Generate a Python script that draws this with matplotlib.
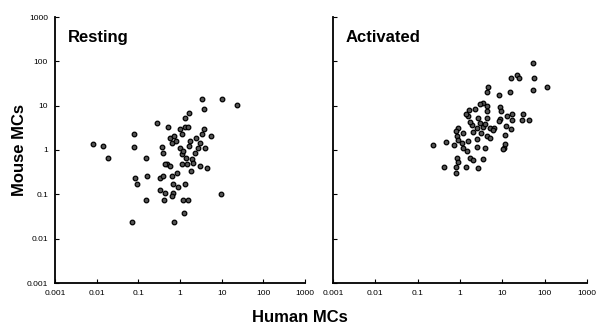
import matplotlib
matplotlib.use("Agg")
import matplotlib.pyplot as plt

plt.rcParams['font.family'] = ['Liberation Sans', 'DejaVu Sans']

# Resting: human MCs (x), mouse MCs (y)
rest_x = [0.0081, 0.014, 0.019, 0.078, 0.078, 0.15, 0.28, 0.51, 0.37, 0.39,
          0.57, 0.64, 0.71, 1.0, 1.11, 1.32, 1.62, 1.32, 1.55, 1.73,
          1.62, 3.35, 3.7, 3.7, 3.35, 3.0, 2.7, 2.3, 4.0, 5.5,
          10.0, 23.0, 1.0, 1.11, 1.38, 1.93, 1.11, 0.49, 0.57,
          0.083, 0.093, 0.16, 0.33, 0.39, 0.64, 0.84, 0.68, 0.89, 1.32,
          1.82, 0.33, 0.44, 0.68, 0.64, 0.15, 0.41, 1.18, 1.55, 1.24,
          0.071, 0.71, 9.5, 3.0, 4.4, 0.44, 1.45, 2.0, 0.8, 1.2, 2.4]
rest_y = [1.37, 1.23, 0.66, 2.3, 1.17, 0.66, 4.1, 3.3, 1.17, 0.86,
          1.87, 1.44, 2.1, 3.0, 2.3, 5.3, 6.9, 3.3, 3.3, 1.6,
          1.23, 13.8, 8.6, 3.0, 2.3, 1.44, 1.11, 0.85, 1.11, 2.1,
          13.8, 10.5, 1.11, 0.81, 0.66, 0.63, 0.48, 0.48, 0.43,
          0.23, 0.17, 0.26, 0.23, 0.26, 0.26, 0.30, 0.17, 0.15, 0.17,
          0.33, 0.123, 0.105, 0.105, 0.09, 0.073, 0.073, 0.073, 0.073, 0.037,
          0.024, 0.024, 0.1, 0.43, 0.39, 0.48, 0.48, 0.5, 1.6, 0.95, 1.9]

# Activated: human MCs (x), mouse MCs (y)
act_x = [54, 16, 22, 25, 56, 114, 54, 15, 4.6, 4.4,
         8.4, 3.5, 4.4, 3.0, 8.9, 9.4, 2.3, 1.64, 1.55, 4.4,
         4.4, 2.7, 8.9, 17, 31, 13, 17, 29.5, 43, 8.4,
         1.93, 2.5, 3.5, 5.1, 6.3, 12.3, 16, 0.9, 0.81, 0.85,
         0.9, 1.55, 2.5, 4.4, 5.1, 11.7, 0.23, 0.47, 0.72, 1.12,
         1.17, 1.48, 2.5, 3.9, 11, 3.5, 0.85, 0.9, 1.74, 2.0,
         0.42, 0.81, 1.39, 2.7, 0.81, 10.5, 11.7, 1.2, 2.0, 3.0,
         4.0, 1.7, 3.2, 6.0, 1.4]
act_y = [90, 43, 50, 43, 43, 27, 23, 20, 27, 20,
         17, 11.7, 10, 11, 9.5, 7.7, 8.5, 8.1, 5.9, 7.7,
         5.3, 5.3, 5.1, 6.6, 6.6, 5.9, 4.8, 4.8, 4.8, 4.5,
         3.7, 3.16, 3.3, 3.16, 3.16, 3.5, 3.0, 3.16, 2.7, 2.1,
         1.69, 1.6, 1.78, 2.1, 1.87, 2.2, 1.29, 1.5, 1.29, 1.44,
         1.11, 0.95, 1.17, 1.11, 1.11, 0.63, 0.66, 0.53, 0.66, 0.59,
         0.41, 0.41, 0.41, 0.39, 0.31, 1.05, 1.38, 2.4, 2.6, 4.0,
         3.8, 4.2, 2.4, 2.8, 6.5]

ticks = [0.001, 0.01, 0.1, 1, 10, 100, 1000]
tick_labels = ["0.001", "0.01", "0.1", "1", "10", "100", "1000"]

fig = plt.figure(figsize=(5.97, 3.30), dpi=100)
ax1 = fig.add_axes([55/597, 47/330, 250/597, 266/330])
ax2 = fig.add_axes([333/597, 47/330, 254/597, 266/330])

for ax, xs, ys, title, show_y in [(ax1, rest_x, rest_y, "Resting", True),
                                  (ax2, act_x, act_y, "Activated", False)]:
    ax.scatter(xs, ys, s=11, facecolor='#555555', edgecolor='black',
               linewidths=0.9, zorder=3)
    ax.set_xscale('log')
    ax.set_yscale('log')
    ax.set_xlim(0.001, 1000)
    ax.set_ylim(0.001, 1000)
    ax.set_xticks(ticks)
    ax.set_xticklabels(tick_labels)
    ax.set_yticks(ticks)
    if show_y:
        ax.set_yticklabels(tick_labels)
    else:
        ax.set_yticklabels([])
    ax.minorticks_off()
    ax.tick_params(direction='in', length=3, width=0.8, labelsize=6,
                   pad=5, colors='black')
    for s in ['top', 'right']:
        ax.spines[s].set_visible(False)
    for s in ['left', 'bottom']:
        ax.spines[s].set_linewidth(1.3)
        ax.spines[s].set_color('black')
    ax.text(0.05, 0.95, title, transform=ax.transAxes, fontsize=12,
            fontweight='bold', ha='left', va='top')

fig.text(20/597, 1 - 150/330, "Mouse MCs", rotation=90, fontsize=12,
         fontweight='bold', ha='center', va='center')
fig.text(300/597, 1 - 318/330, "Human MCs", fontsize=12,
         fontweight='bold', ha='center', va='center')

fig.savefig("out.png", dpi=100)
